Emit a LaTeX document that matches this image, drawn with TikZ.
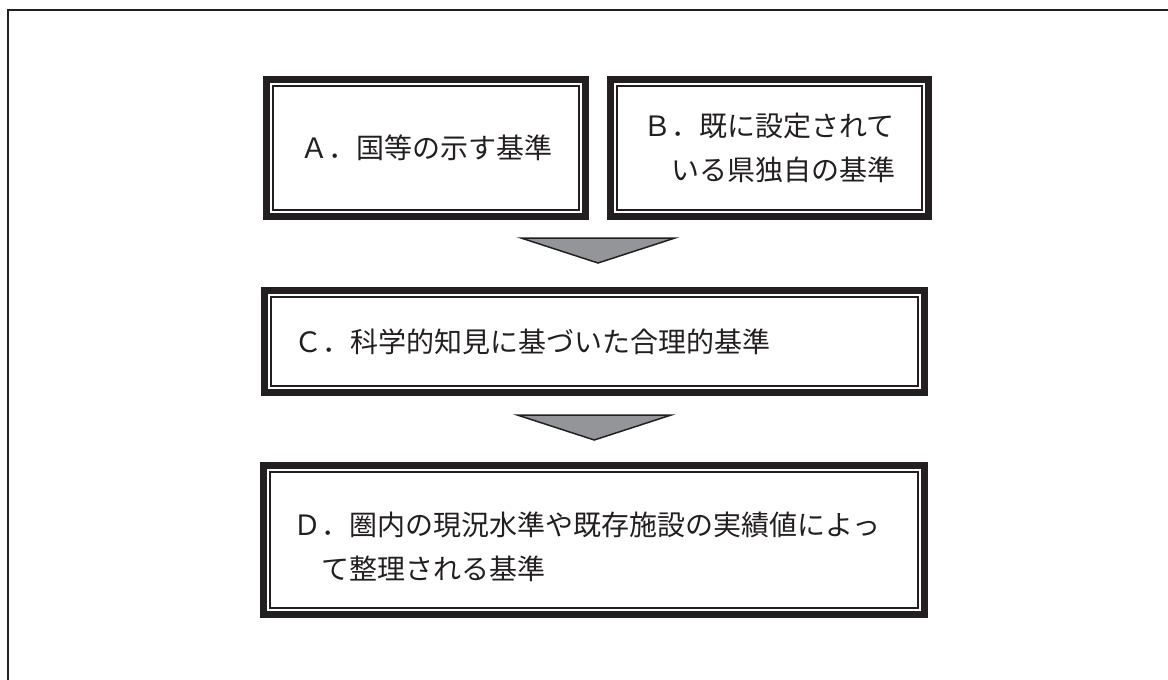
\documentclass[tikz,border=0pt]{standalone}
\usepackage{fontspec}
\setmainfont{Noto Sans CJK JP}
\usetikzlibrary{calc}
\definecolor{ink}{RGB}{35,31,32}
\definecolor{pointergray}{RGB}{147,149,152}
\tikzset{
    % Heavy outer line with a thin rule just inside it
    frame box/.style={
        draw=ink, line width=7pt, rectangle, inner sep=0pt,
        font=\fontsize{28}{44}\selectfont, text=ink,
        path picture={
            \draw[ink, line width=2pt]
                ([shift={(6.5pt,-6.5pt)}]path picture bounding box.north west)
                rectangle
                ([shift={(-6.5pt,6.5pt)}]path picture bounding box.south east);}},
%
    % The wide boxes keep their text to the left
    wide box/.style={frame box, align=left, inner xsep=30pt, text width=#1},
%
    % Grey pointer between the stages
    pointer/.style={draw=ink, line width=1.5pt, fill=pointergray},
%
    % Page rule along the top and left edge
    page rule/.style={draw=ink, line width=2pt}}

\begin{document}
\begin{tikzpicture}[x=1pt, y=-1pt]

\useasboundingbox (0,0) rectangle (1168,680);
\draw [page rule] (8,680) -- (8,10) -- (1168,10);

\node (A) [frame box, minimum width=319pt, minimum height=137pt]
    at (426,148) {Ａ．国等の示す基準};
\node (B) [frame box, align=left, minimum width=318pt, minimum height=137pt]
    at (769.5,148) {Ｂ．既に設定されて\\　いる県独自の基準};
\node (C) [wide box=600pt, minimum height=102pt]
    at (594.5,341.5) {Ｃ．科学的知見に基づいた合理的基準};
\node (D) [wide box=601pt, minimum height=149pt, text depth=33pt]
    at (594,540) {Ｄ．圏内の現況水準や既存施設の実績値によっ\\　て整理される基準};

\coordinate (ab) at ($(A.south east)!.5!(B.south west)$);
\coordinate (t1) at ($(ab)!.5!(ab |- C.north) + (0,-3)$);
\coordinate (t2) at ($(C.south)!.5!(D.north) + (0,-1.5)$);

\draw [pointer] ($(t1)+(-77,-12.5)$) -- ++(154,0) -- ($(t1)+(0,12.5)$) -- cycle;
\draw [pointer] ($(t2)+(-77,-12.5)$) -- ++(154,0) -- ($(t2)+(0,12.5)$) -- cycle;

\end{tikzpicture}
\end{document}
